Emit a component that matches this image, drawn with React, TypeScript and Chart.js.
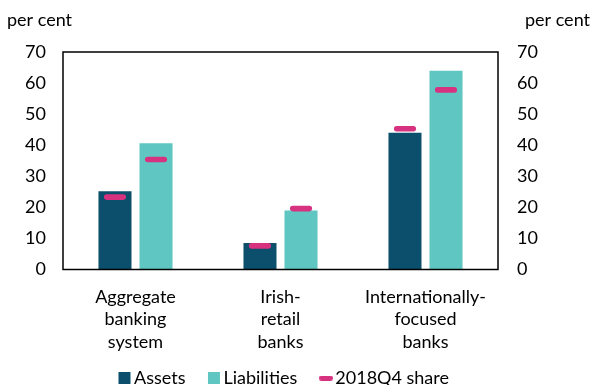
import React, { useEffect, useRef } from "react";
import { Chart, registerables } from "chart.js";

Chart.register(...registerables);

// ---- data ----
const categories: string[][] = [
  ["Aggregate", "banking", "system"],
  ["Irish-", "retail", "banks"],
  ["Internationally-", "focused", "banks"],
];
const assets = [25.2, 8.5, 44.0];
const liabilities = [40.6, 19.0, 64.0];
const assetsShare2018Q4 = [23.3, 7.6, 45.3];
const liabilitiesShare2018Q4 = [35.4, 19.6, 57.8];
const yTickValues = [0, 10, 20, 30, 40, 50, 60, 70];
const unitLabel = "per cent";
const legendNames = ["Assets", "Liabilities", "2018Q4 share"];

// ---- styles ----
const ASSET_COLOR = "#0b4f6c";
const LIAB_COLOR = "#5fc6c1";
const SHARE_COLOR = "#d6327f";
const FONT = "Lato";
const FS = 18;
const MARK_HALF = 0.9; // half thickness of share marker, in axis units
const LEGEND_SHIFT = -28;
const LEGEND_SHIFT_X = -11;

function makeDashIcon(): HTMLCanvasElement {
  const c = document.createElement("canvas");
  c.width = 14;
  c.height = 5;
  const g = c.getContext("2d")!;
  g.fillStyle = SHARE_COLOR;
  g.beginPath();
  (g as any).roundRect ? (g as any).roundRect(0, 0, 14, 5, 2.5) : g.rect(0, 0, 14, 5);
  g.fill();
  return c;
}

const frameAndTitles = {
  id: "frameAndTitles",
  afterLayout(chart: any) {
    const lg = chart.legend;
    if (lg) {
      lg.top += LEGEND_SHIFT;
      lg.bottom += LEGEND_SHIFT;
      lg.left += LEGEND_SHIFT_X;
      lg.right += LEGEND_SHIFT_X;
    }
  },
  afterDatasetsDraw(chart: any) {
    const { ctx, chartArea } = chart;
    ctx.save();
    ctx.strokeStyle = "#000";
    ctx.lineWidth = 1.5;
    ctx.strokeRect(chartArea.left, chartArea.top, chartArea.right - chartArea.left, chartArea.bottom - chartArea.top);
    ctx.restore();
  },
  afterDraw(chart: any) {
    const { ctx } = chart;
    const yl = chart.scales.y;
    const yr = chart.scales.y2;
    ctx.save();
    ctx.font = `${FS}px ${FONT}`;
    ctx.fillStyle = "#000";
    ctx.textBaseline = "middle";
    ctx.textAlign = "left";
    ctx.fillText(unitLabel, yl.left + 7, 20);
    ctx.textAlign = "right";
    ctx.fillText(unitLabel, yr.right - 5, 20);
    ctx.restore();
  },
};

export default function App() {
  const ref = useRef<HTMLCanvasElement>(null);
  useEffect(() => {
    if (!ref.current) return;
    const dash = makeDashIcon();
    const chart = new Chart(ref.current, {
      type: "bar",
      data: {
        labels: categories,
        datasets: [
          {
            label: legendNames[0],
            data: assets,
            backgroundColor: ASSET_COLOR,
            stack: "a",
            order: 2,
            barPercentage: 0.805,
            categoryPercentage: 0.566,
          },
          {
            label: legendNames[1],
            data: liabilities,
            backgroundColor: LIAB_COLOR,
            stack: "l",
            order: 2,
            barPercentage: 0.805,
            categoryPercentage: 0.566,
          },
          {
            label: legendNames[2],
            data: assetsShare2018Q4.map((v) => [v - MARK_HALF, v + MARK_HALF]) as any,
            backgroundColor: SHARE_COLOR,
            stack: "a",
            order: 1,
            barPercentage: 0.54,
            categoryPercentage: 0.566,
            borderRadius: 3,
            borderSkipped: false,
          },
          {
            label: legendNames[2] + " (liabilities)",
            data: liabilitiesShare2018Q4.map((v) => [v - MARK_HALF, v + MARK_HALF]) as any,
            backgroundColor: SHARE_COLOR,
            stack: "l",
            order: 1,
            barPercentage: 0.54,
            categoryPercentage: 0.566,
            borderRadius: 3,
            borderSkipped: false,
          },
        ],
      },
      options: {
        animation: false,
        responsive: false,
        maintainAspectRatio: false,
        layout: { padding: { top: 52, left: 0, right: 0, bottom: -40 } },
        color: "#000",
        scales: {
          x: {
            stacked: true,
            grid: { display: false, drawTicks: false },
            border: { display: false },
            ticks: {
              color: "#000",
              font: { family: FONT, size: FS, lineHeight: 1.25 },
              padding: 16,
              maxRotation: 0,
              autoSkip: false,
            },
          },
          y: {
            position: "left",
            stacked: false,
            min: 0,
            max: 70,
            afterBuildTicks: (s: any) => {
              s.ticks = yTickValues.map((v) => ({ value: v }));
            },
            afterFit: (s: any) => {
              s.width = 63;
            },
            grid: { display: false, drawTicks: false },
            border: { display: false },
            ticks: { color: "#000", font: { family: FONT, size: FS }, padding: 17 },
          },
          y2: {
            position: "right",
            stacked: false,
            min: 0,
            max: 70,
            afterBuildTicks: (s: any) => {
              s.ticks = yTickValues.map((v) => ({ value: v }));
            },
            afterFit: (s: any) => {
              s.width = 97;
            },
            grid: { display: false, drawTicks: false },
            border: { display: false },
            ticks: { color: "#000", font: { family: FONT, size: FS }, padding: 19 },
          },
        },
        plugins: {
          tooltip: { enabled: false },
          legend: {
            position: "bottom",
            labels: {
              color: "#000",
              font: { family: FONT, size: FS },
              usePointStyle: true,
              boxHeight: 12,
              boxWidth: 1,
              padding: 28,
              generateLabels: () => [
                { text: legendNames[0], fillStyle: ASSET_COLOR, strokeStyle: ASSET_COLOR, lineWidth: 0, pointStyle: "rect", hidden: false, datasetIndex: 0, fontColor: "#000" } as any,
                { text: legendNames[1], fillStyle: LIAB_COLOR, strokeStyle: LIAB_COLOR, lineWidth: 0, pointStyle: "rect", hidden: false, datasetIndex: 1, fontColor: "#000" } as any,
                { text: legendNames[2], fillStyle: SHARE_COLOR, strokeStyle: SHARE_COLOR, lineWidth: 0, pointStyle: dash, hidden: false, datasetIndex: 2, fontColor: "#000" } as any,
              ],
            },
          },
        },
      },
      plugins: [frameAndTitles],
    });
    return () => chart.destroy();
  }, []);
  return (
    <div style={{ position: "fixed", left: 0, top: 0, width: 595, height: 385, background: "#fff" }}>
      <canvas ref={ref} width={595} height={385} style={{ width: 595, height: 385 }} />
    </div>
  );
}
